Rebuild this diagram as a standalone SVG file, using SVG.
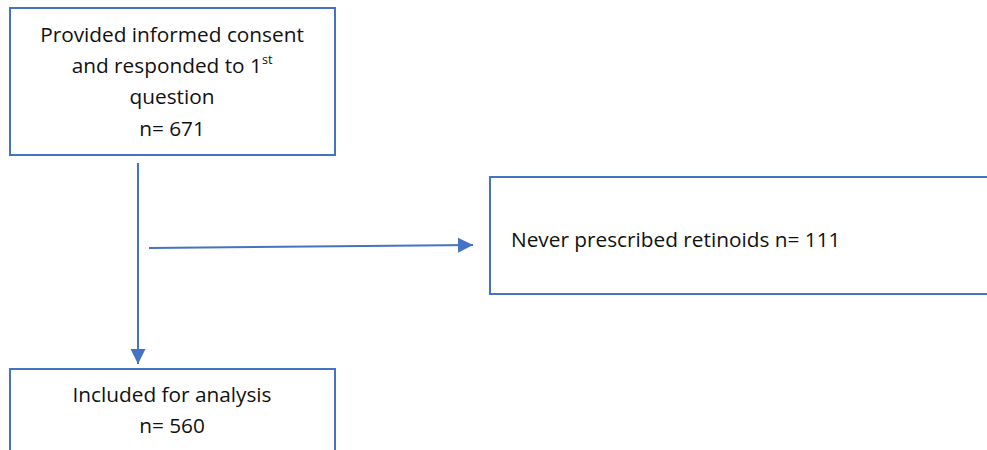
<svg xmlns="http://www.w3.org/2000/svg" width="987" height="450" viewBox="0 0 987 450">
  <style>
    .box { fill: #ffffff; stroke: #4472c4; stroke-width: 2; }
    .lbl { font-family: "Open Sans", "Liberation Sans", sans-serif; font-size: 20.8px; fill: #111111; }
    .c { text-anchor: middle; }
    .conn { stroke: #4472c4; stroke-width: 2; fill: none; }
  </style>
  <defs>
    <marker id="arrow" markerWidth="16" markerHeight="16" refX="15" refY="8" orient="auto" markerUnits="userSpaceOnUse" viewBox="0 0 16 16">
      <path d="M0,0.5 L15,8 L0,15.5 Z" fill="#4472c4"/>
    </marker>
  </defs>
  <rect width="987" height="450" fill="#ffffff"/>

  <g id="connectors">
    <line class="conn" x1="138" y1="163" x2="138" y2="364" marker-end="url(#arrow)"/>
    <line class="conn" x1="149" y1="248" x2="473" y2="245" marker-end="url(#arrow)"/>
  </g>

  <g id="consent">
    <rect class="box" x="10" y="8" width="325" height="147"/>
    <text class="lbl c" x="172" y="42">Provided informed consent</text>
    <text class="lbl c" x="172" y="73">and responded to 1<tspan font-size="12.5" dy="-9">st</tspan></text>
    <text class="lbl c" x="172" y="104">question</text>
    <text class="lbl c" x="172" y="136">n= 671</text>
  </g>

  <g id="excluded">
    <rect class="box" x="490" y="177" width="510" height="117"/>
    <text class="lbl" x="511" y="247">Never prescribed retinoids n= 111</text>
  </g>

  <g id="included">
    <rect class="box" x="10" y="369" width="325" height="100"/>
    <text class="lbl c" x="172" y="402">Included for analysis</text>
    <text class="lbl c" x="172" y="433">n= 560</text>
  </g>
</svg>
